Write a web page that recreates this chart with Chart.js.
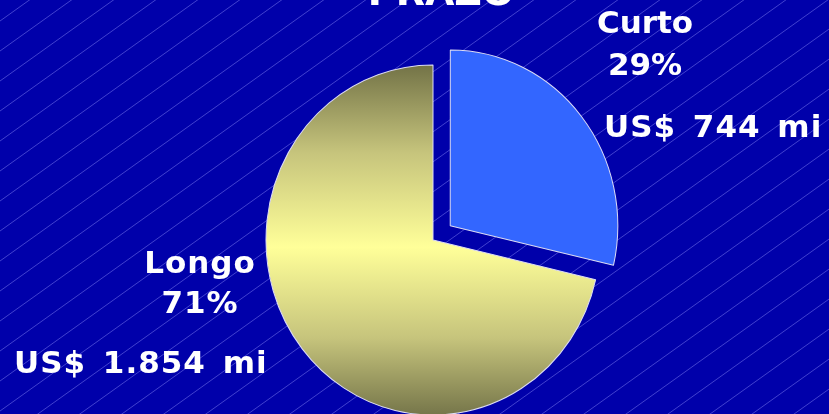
<!DOCTYPE html>
<html lang="pt">
<head>
    <meta charset="UTF-8">
    <title>Prazo</title>
    <script src="https://cdn.jsdelivr.net/npm/chart.js"></script>
    <style>
        html, body { margin: 0; padding: 0; background: #0000aa; }
        #wrap { width: 829px; height: 414px; }
    </style>
</head>
<body>
    <div id="wrap"><canvas id="prazoChart" width="829" height="414"></canvas></div>
    <script>
        // dados
        const title = 'PRAZO';
        const categories = ['Curto', 'Longo'];
        const valuesMi = [744, 1854];
        const percentLabels = ['29%', '71%'];
        const valueLabels = ['US$ 744 mi', 'US$ 1.854 mi'];

        const R = 167;          // raio horizontal
        const SY = 175 / 167;   // pizza levemente oval

        const background = {
            id: 'background',
            beforeDraw(chart) {
                const ctx = chart.ctx;
                ctx.save();
                ctx.fillStyle = '#0000aa';
                ctx.fillRect(0, 0, chart.width, chart.height);
                // linhas diagonais
                ctx.strokeStyle = 'rgba(150,150,255,0.55)';
                ctx.lineWidth = 0.8;
                const s = 0.714;
                for (let c = 21 - 30 * 2; c < chart.height + s * chart.width + 30; c += 30) {
                    ctx.beginPath();
                    ctx.moveTo(0, c);
                    ctx.lineTo(chart.width, c - s * chart.width);
                    ctx.stroke();
                }
                ctx.restore();
            }
        };

        const oval = {
            id: 'oval',
            beforeDatasetsDraw(chart) {
                const ca = chart.chartArea;
                const cx = (ca.left + ca.right) / 2;
                const cy = (ca.top + ca.bottom) / 2;
                chart.ctx.save();
                chart.ctx.translate(cx, cy);
                chart.ctx.scale(1, SY);
                chart.ctx.translate(-cx, -cy);
            },
            afterDatasetsDraw(chart) {
                chart.ctx.restore();
            }
        };

        function text(ctx, str, x, y, align, ls, ws) {
            ctx.textAlign = align;
            ctx.letterSpacing = ls + 'px';
            ctx.wordSpacing = ws + 'px';
            ctx.fillText(str, x, y);
        }

        const labels = {
            id: 'labels',
            afterDraw(chart) {
                const ctx = chart.ctx;
                ctx.save();
                ctx.fillStyle = '#ffffff';
                ctx.textBaseline = 'alphabetic';
                ctx.font = 'bold 38px "DejaVu Sans"';
                text(ctx, title, 441, 5, 'center', 0, 0);

                ctx.font = 'bold 31px "DejaVu Sans"';
                text(ctx, categories[0], 645, 33, 'center', 0, 0);
                text(ctx, percentLabels[0], 645, 75, 'center', 0, 0);
                text(ctx, categories[1], 200, 273, 'center', 1, 0);
                text(ctx, percentLabels[1], 200, 313, 'center', 1, 0);
                text(ctx, valueLabels[0], 604, 137, 'left', 1, 5);
                text(ctx, valueLabels[1], 14, 373, 'left', 1, 5);
                ctx.restore();
            }
        };

        function sliceColor(context) {
            if (context.dataIndex === 0) return '#3366ff';
            const chart = context.chart;
            const ca = chart.chartArea;
            if (!ca) return '#ffff99';
            const cy = (ca.top + ca.bottom) / 2;
            const g = chart.ctx.createLinearGradient(0, cy - R, 0, cy + R);
            g.addColorStop(0, '#737347');
            g.addColorStop(0.25, '#c6c47c');
            g.addColorStop(0.52, '#ffff99');
            g.addColorStop(0.78, '#c6c47c');
            g.addColorStop(1, '#76764a');
            return g;
        }

        new Chart(document.getElementById('prazoChart'), {
            type: 'pie',
            data: {
                labels: categories,
                datasets: [{
                    data: valuesMi,
                    backgroundColor: sliceColor,
                    borderColor: '#dcdcf4',
                    borderWidth: 1,
                    offset: [88, 0],
                    hoverOffset: 0
                }]
            },
            options: {
                responsive: false,
                animation: false,
                events: [],
                radius: R,
                layout: { padding: { left: 37, right: 0, top: 66, bottom: 0 } },
                plugins: {
                    legend: { display: false },
                    tooltip: { enabled: false },
                    title: { display: false }
                }
            },
            plugins: [background, oval, labels]
        });
    </script>
</body>
</html>
